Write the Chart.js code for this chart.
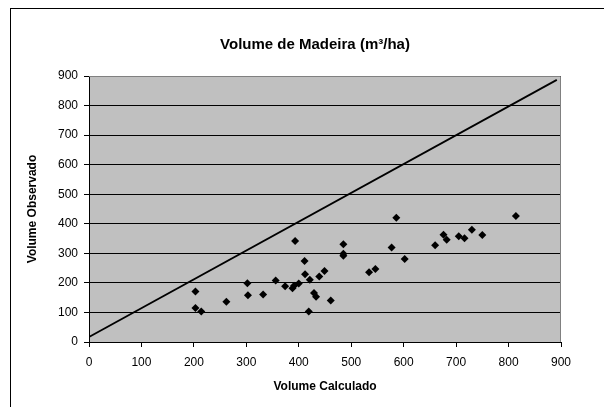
<!DOCTYPE html>
<html>
<head>
<meta charset="utf-8">
<script src="https://cdn.jsdelivr.net/npm/chart.js@4.4.1/dist/chart.umd.min.js"></script>
<style>
  body { margin: 0; background: #fff; }
  #wrap { width: 604px; height: 407px; }
</style>
</head>
<body>
<div id="wrap"><canvas id="volumeChart" width="604" height="407"></canvas></div>
<script>
// Volume Calculado (x) vs Volume Observado (y)
var volCalculado = [203, 203, 214, 262, 302, 303, 332, 356, 374, 388, 391, 393, 400, 411, 412, 421, 419, 429, 433, 439, 449, 461, 485, 485, 485, 534, 546, 577, 586, 602, 660, 676, 682, 705, 716, 730, 750, 814];
var volObservado = [171, 115, 103, 136, 199, 158, 161, 208, 189, 182, 190, 342, 198, 274, 229, 211, 103, 166, 153, 222, 240, 140, 331, 299, 292, 236, 247, 320, 420, 281, 327, 363, 346, 358, 351, 380, 362, 426];

// reference line
var lineX = [0, 892];
var lineY = [17, 887];

var axisTicks = [0, 100, 200, 300, 400, 500, 600, 700, 800, 900];

var titleText = 'Volume de Madeira (m³/ha)';
var xTitle = 'Volume Calculado';
var yTitle = 'Volume Observado';

var pontos = volCalculado.map(function (v, i) { return { x: v, y: volObservado[i] }; });
var linha = lineX.map(function (v, i) { return { x: v, y: lineY[i] }; });

var fontFam = '"Liberation Sans", Arial, sans-serif';

// frame, plot background, title
var excelLook = {
  id: 'excelLook',
  beforeDraw: function (chart) {
    var ctx = chart.ctx, a = chart.chartArea;
    ctx.save();
    ctx.fillStyle = '#fff';
    ctx.fillRect(0, 0, chart.width, chart.height);
    ctx.strokeStyle = '#000';
    ctx.lineWidth = 1;
    ctx.strokeRect(10.5, 8.5, 800, 600);
    ctx.fillStyle = '#C0C0C0';
    ctx.fillRect(a.left, a.top, a.right - a.left, a.bottom - a.top);
    ctx.fillStyle = '#000';
    ctx.font = 'bold 15px ' + fontFam;
    ctx.textAlign = 'center';
    ctx.textBaseline = 'middle';
    ctx.fillText(titleText, 315, 45);
    ctx.restore();
  },
  beforeDatasetsDraw: function (chart) {
    var ctx = chart.ctx, a = chart.chartArea;
    ctx.save();
    ctx.strokeStyle = '#808080';
    ctx.lineWidth = 1;
    ctx.beginPath();
    ctx.moveTo(a.left, a.top + 0.5);
    ctx.lineTo(a.right - 0.5, a.top + 0.5);
    ctx.lineTo(a.right - 0.5, a.bottom);
    ctx.stroke();
    ctx.restore();
  }
};

var ctx = document.getElementById('volumeChart').getContext('2d');
new Chart(ctx, {
  type: 'scatter',
  data: {
    datasets: [
      {
        label: 'Observado',
        data: pontos,
        pointStyle: 'rectRot',
        pointRadius: 4,
        pointBackgroundColor: '#000',
        pointBorderColor: '#000',
        pointBorderWidth: 0
      },
      {
        label: '1:1',
        data: linha,
        showLine: true,
        borderColor: '#000',
        borderWidth: 1.8,
        pointRadius: 0
      }
    ]
  },
  options: {
    responsive: false,
    animation: false,
    layout: { padding: { left: 10, right: 43, top: 76, bottom: 0 } },
    plugins: {
      legend: { display: false },
      tooltip: { enabled: false }
    },
    scales: {
      x: {
        type: 'linear',
        min: 0,
        max: 900,
        afterBuildTicks: function (s) { s.ticks = axisTicks.map(function (v) { return { value: v }; }); },
        afterFit: function (s) { s.height = 65; },
        grid: { drawOnChartArea: false, drawTicks: true, tickLength: 5, color: '#000' },
        border: { display: true, color: '#000', width: 1 },
        ticks: { color: '#000', padding: 8, maxRotation: 0, font: { family: fontFam, size: 12 } },
        title: { display: true, text: xTitle, color: '#000', padding: { top: 0, bottom: 13 }, font: { family: fontFam, size: 12, weight: 'bold' } }
      },
      y: {
        type: 'linear',
        min: 0,
        max: 900,
        afterBuildTicks: function (s) { s.ticks = axisTicks.map(function (v) { return { value: v }; }); },
        afterFit: function (s) { s.width = 79; },
        grid: { drawOnChartArea: true, drawTicks: true, tickLength: 5, color: '#000' },
        border: { display: true, color: '#000', width: 1 },
        ticks: { color: '#000', padding: 6, font: { family: fontFam, size: 12 } },
        title: { display: true, text: yTitle, color: '#000', padding: { top: 15, bottom: 0 }, font: { family: fontFam, size: 12, weight: 'bold' } }
      }
    }
  },
  plugins: [excelLook]
});
</script>
</body>
</html>
